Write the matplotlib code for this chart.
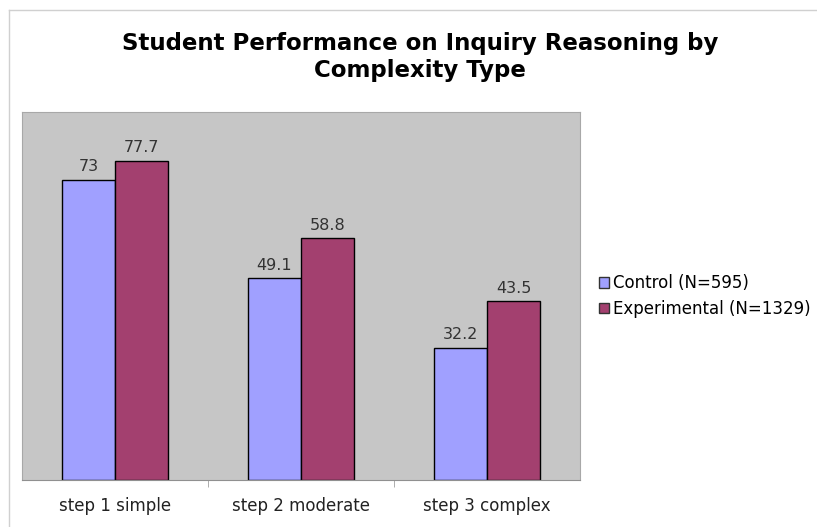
import numpy as np
import matplotlib.pyplot as plt
from matplotlib.lines import Line2D
from matplotlib.patches import Patch

categories = ["step 1 simple", "step 2 moderate", "step 3 complex"]
control = [73, 49.1, 32.2]
experimental = [77.7, 58.8, 43.5]
series_names = ["Control (N=595)", "Experimental (N=1329)"]
title = "Student Performance on Inquiry Reasoning by\nComplexity Type"

W, H = 817, 527
fig = plt.figure(figsize=(W / 100, H / 100), dpi=100)
fig.patch.set_facecolor("white")

# chart border (light gray, top and left)
fig.add_artist(Line2D([9 / W, 9 / W], [0, 1 - 10 / H], color="#d0d0d0", lw=1))
fig.add_artist(Line2D([9 / W, 1], [1 - 10 / H, 1 - 10 / H], color="#d0d0d0", lw=1))

ax = fig.add_axes([22 / W, 47 / H, 558 / W, 368 / H])
ax.set_facecolor("#c6c6c6")

x = np.arange(len(categories))
bw = 0.285
c1, c2 = "#a0a0ff", "#a3406f"
b1 = ax.bar(x - bw / 2, control, bw, color=c1, edgecolor="black", lw=1, zorder=2)
b2 = ax.bar(x + bw / 2, experimental, bw, color=c2, edgecolor="black", lw=1, zorder=2)
for bars, vals in [(b1, control), (b2, experimental)]:
    for r, v in zip(bars, vals):
        ax.text(r.get_x() + r.get_width() / 2, v + 1.3, f"{v:g}", ha="center", va="bottom",
                fontsize=11.5, color="#333333")

ax.set_xlim(-0.5, 2.5)
ax.set_ylim(0, 89.5)
ax.set_yticks([])
ax.set_xticks(x)
ax.set_xticklabels(categories, fontsize=12, color="#222222")
ax.tick_params(axis="x", which="major", length=0, pad=12)
ax.set_xticks([0.5, 1.5], minor=True)
ax.tick_params(axis="x", which="minor", length=5, color="#a0a0a0", direction="out")
for s in ax.spines.values():
    s.set_color("#a8a8a8")
ax.spines["bottom"].set_color("#909090")

fig.text(420 / W, 1 - 57 / H, title, ha="center", va="center", fontsize=16.5,
         fontweight="bold", linespacing=1.25)

handles = [Patch(facecolor=c1, edgecolor="#333333"), Patch(facecolor=c2, edgecolor="#333333")]
fig.legend(handles, series_names, loc="center left", bbox_to_anchor=(587 / W, 1 - 296 / H),
           frameon=False, fontsize=12, handlelength=0.6, handleheight=0.6,
           handletextpad=0.25, labelspacing=0.45, borderpad=0.2)

fig.savefig("out.png", dpi=100)
